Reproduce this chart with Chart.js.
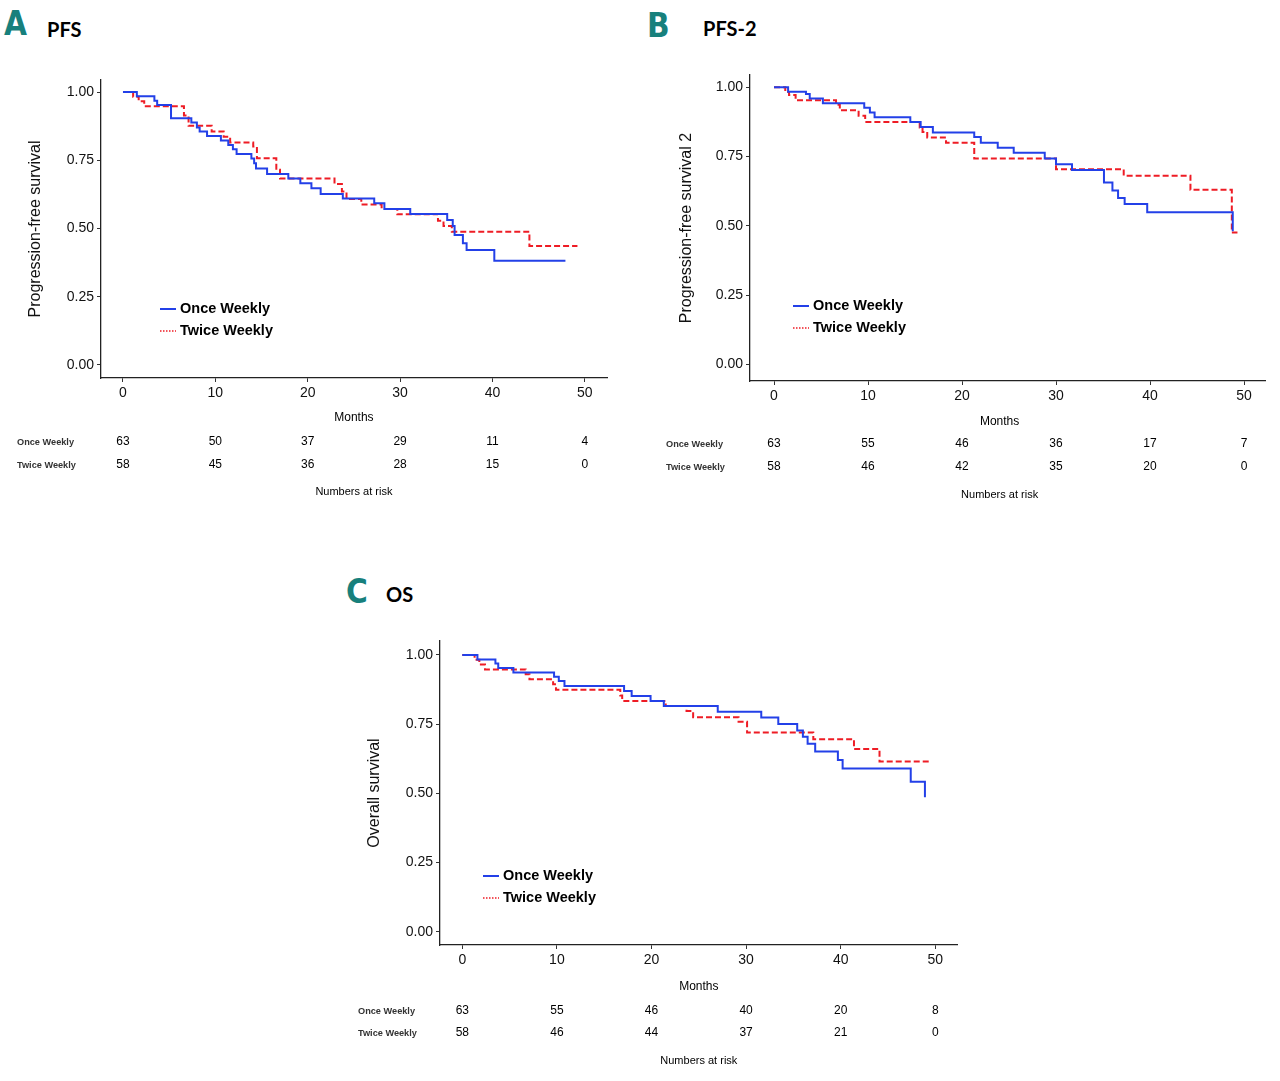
<!DOCTYPE html>
<html>
<head>
<meta charset="utf-8">
<script src="https://cdn.jsdelivr.net/npm/chart.js@4.4.1/dist/chart.umd.min.js"></script>
<style>
  html, body { margin: 0; padding: 0; background: #fff; }
  #page { position: relative; width: 1280px; height: 1081px; overflow: hidden; }
  canvas { position: absolute; }
  .letter { position: absolute; font-family: "Liberation Sans Narrow", "DejaVu Sans Condensed", sans-serif; font-weight: bold; color: #17807c; font-size: 33px; line-height: 1; }
  .head { position: absolute; font-family: Lato, "Open Sans", sans-serif; font-weight: bold; font-size: 20px; line-height: 1; color: #000; }
</style>
</head>
<body>
<div id="page">
  <div class="letter" style="left:4px;top:7px">A</div>
  <div class="head" style="left:47px;top:19px">PFS</div>
  <div class="letter" style="left:647px;top:9px">B</div>
  <div class="head" style="left:703px;top:18px">PFS-2</div>
  <div class="letter" style="left:346px;top:575px">C</div>
  <div class="head" style="left:386px;top:584px">OS</div>
  <canvas id="chartA"></canvas>
  <canvas id="chartB"></canvas>
  <canvas id="chartC"></canvas>
</div>
<script>
// axis ticks
const monthTicks = [0, 10, 20, 30, 40, 50];
const survTicks = [0, 0.25, 0.5, 0.75, 1];
const groups = ["Once Weekly", "Twice Weekly"];

// A - PFS
const pfsOnceMonths = [0, 1.5, 3.4, 3.7, 5.2, 7.4, 8.0, 8.3, 9.1, 10.6, 11.4, 11.9, 12.3, 13.9, 14.2, 14.4, 15.6, 17.9, 19.2, 20.4, 21.4, 23.8, 27.2, 28.3, 31.1, 35.1, 35.7, 35.9, 36.8, 37.2, 40.2, 47.9];
const pfsOnceSurv   = [1, 0.984, 0.968, 0.952, 0.904, 0.888, 0.870, 0.855, 0.839, 0.822, 0.806, 0.790, 0.773, 0.756, 0.739, 0.720, 0.700, 0.683, 0.666, 0.647, 0.626, 0.610, 0.592, 0.571, 0.553, 0.531, 0.509, 0.476, 0.446, 0.421, 0.382, 0.382];
const pfsTwiceMonths = [0, 1.1, 1.7, 2.3, 6.6, 7.1, 9.6, 10.9, 11.6, 14.1, 14.5, 16.6, 17.0, 22.9, 23.7, 24.2, 25.8, 28.0, 29.7, 34.1, 34.7, 35.6, 44.0, 49.2];
const pfsTwiceSurv   = [1, 0.983, 0.966, 0.948, 0.914, 0.876, 0.855, 0.836, 0.815, 0.800, 0.757, 0.715, 0.683, 0.663, 0.635, 0.608, 0.588, 0.571, 0.552, 0.528, 0.509, 0.488, 0.436, 0.436];
const pfsRiskOnce  = [63, 50, 37, 29, 11, 4];
const pfsRiskTwice = [58, 45, 36, 28, 15, 0];

// B - PFS-2
const pfs2OnceMonths = [0, 1.5, 3.4, 3.8, 5.2, 9.6, 10.2, 10.7, 14.5, 15.6, 16.9, 21.3, 22.0, 23.8, 25.5, 28.8, 30.0, 31.7, 35.1, 36.0, 36.6, 37.3, 39.7, 48.8, 48.8];
const pfs2OnceSurv   = [1, 0.984, 0.976, 0.960, 0.942, 0.926, 0.909, 0.892, 0.875, 0.857, 0.837, 0.821, 0.800, 0.782, 0.764, 0.743, 0.722, 0.701, 0.656, 0.627, 0.600, 0.579, 0.549, 0.549, 0.480];
const pfs2TwiceMonths = [0, 1.2, 1.6, 2.3, 6.6, 7.0, 9.0, 9.7, 15.5, 15.8, 16.3, 18.3, 21.3, 30.0, 37.2, 44.3, 48.7, 49.3];
const pfs2TwiceSurv   = [1, 0.983, 0.972, 0.953, 0.937, 0.917, 0.897, 0.875, 0.855, 0.839, 0.819, 0.800, 0.743, 0.704, 0.681, 0.630, 0.476, 0.476];
const pfs2RiskOnce  = [63, 55, 46, 36, 17, 7];
const pfs2RiskTwice = [58, 46, 42, 35, 20, 0];

// C - OS
const osOnceMonths = [0, 1.6, 3.5, 3.8, 5.4, 9.7, 10.2, 10.8, 17.1, 17.9, 19.9, 21.3, 27.0, 31.6, 33.4, 35.4, 36.0, 36.5, 37.3, 39.7, 40.2, 47.4, 48.9];
const osOnceSurv   = [1, 0.984, 0.969, 0.953, 0.937, 0.921, 0.906, 0.888, 0.870, 0.852, 0.834, 0.816, 0.795, 0.774, 0.751, 0.727, 0.705, 0.679, 0.651, 0.621, 0.590, 0.542, 0.486];
const osTwiceMonths = [0, 1.3, 1.8, 2.4, 6.7, 7.1, 9.6, 9.9, 16.7, 16.9, 21.5, 23.7, 24.4, 29.2, 30.1, 37.1, 41.4, 44.1, 49.6];
const osTwiceSurv   = [1, 0.983, 0.966, 0.948, 0.930, 0.912, 0.894, 0.874, 0.854, 0.834, 0.816, 0.798, 0.775, 0.759, 0.720, 0.696, 0.660, 0.615, 0.615];
const osRiskOnce  = [63, 55, 46, 40, 20, 8];
const osRiskTwice = [58, 46, 44, 37, 21, 0];

const BLUE = "#2340e8";
const RED = "#ee1c25";
const SANS = '"Liberation Sans", Arial, sans-serif';

const zip = (xs, ys) => xs.map((x, i) => ({ x: x, y: ys[i] }));

// numbers at risk, axis caption and the in-plot legend
const tablePlugin = (p) => ({
  id: "riskTable",
  afterDraw(chart) {
    const { ctx, chartArea, scales } = chart;
    const x = scales.x;
    const b = chartArea.bottom;
    ctx.save();
    ctx.fillStyle = "#000";
    ctx.textBaseline = "middle";
    ctx.textAlign = "center";
    ctx.font = "12px " + SANS;
    ctx.fillText("Months", x.getPixelForValue(p.titleAt), b + p.monthsDy);
    ctx.font = "11px " + SANS;
    ctx.fillText("Numbers at risk", x.getPixelForValue(p.titleAt), b + p.narDy);
    ctx.font = "12px " + SANS;
    [p.risk[0], p.risk[1]].forEach((row, r) => {
      const y = b + (r ? p.row2Dy : p.row1Dy);
      row.forEach((n, i) => ctx.fillText(String(n), x.getPixelForValue(monthTicks[i]), y));
    });
    ctx.textAlign = "left";
    ctx.fillStyle = "#333";
    ctx.font = "bold 9.2px " + SANS;
    groups.forEach((g, r) => ctx.fillText(g, p.labelX, b + (r ? p.row2Dy : p.row1Dy)));

    // legend
    const lx = chartArea.left + p.legendDx;
    groups.forEach((g, r) => {
      const ly = chartArea.top + p.legendDy + r * 22;
      ctx.beginPath();
      ctx.moveTo(lx, ly);
      ctx.lineTo(lx + 16, ly);
      if (r) { ctx.strokeStyle = RED; ctx.lineWidth = 1.5; ctx.setLineDash([1.5, 1.5]); }
      else { ctx.strokeStyle = BLUE; ctx.lineWidth = 2; ctx.setLineDash([]); }
      ctx.stroke();
      ctx.fillStyle = "#000";
      ctx.font = "bold 14.5px " + SANS;
      ctx.fillText(g, lx + 20, ly);
    });
    ctx.restore();
  }
});

function makePanel(p) {
  const canvas = document.getElementById(p.id);
  canvas.width = p.w;
  canvas.height = p.h;
  canvas.style.left = p.left + "px";
  canvas.style.top = p.top + "px";
  canvas.style.width = p.w + "px";
  canvas.style.height = p.h + "px";

  const axisGrid = { display: true, drawOnChartArea: false, drawTicks: true, tickLength: 4, color: "#333", lineWidth: 1 };
  const axisBorder = { display: true, color: "#222", width: 1.3 };

  return new Chart(canvas, {
    type: "line",
    data: {
      datasets: [
        { label: groups[0], data: zip(p.once[0], p.once[1]), borderColor: BLUE, borderWidth: 2, stepped: true, pointRadius: 0, fill: false },
        { label: groups[1], data: zip(p.twice[0], p.twice[1]), borderColor: RED, borderWidth: 2, borderDash: [6, 3], stepped: true, pointRadius: 0, fill: false }
      ]
    },
    options: {
      responsive: false,
      animation: false,
      layout: { padding: { top: p.padTop, right: p.padRight, left: 0, bottom: 0 } },
      plugins: { legend: { display: false }, tooltip: { enabled: false } },
      scales: {
        x: {
          type: "linear",
          min: p.xMin, max: p.xMax,
          grid: axisGrid, border: axisBorder,
          afterBuildTicks: s => { s.ticks = monthTicks.map(v => ({ value: v })); },
          afterFit: s => { s.height = p.xAxisH; },
          ticks: { color: "#111", font: { family: SANS, size: 14 }, padding: 3, maxRotation: 0, autoSkip: false, callback: v => String(v) }
        },
        y: {
          type: "linear",
          min: p.yMin, max: p.yMax,
          grid: axisGrid, border: axisBorder,
          afterBuildTicks: s => { s.ticks = survTicks.map(v => ({ value: v })); },
          afterFit: s => { s.width = p.yAxisW; },
          ticks: { color: "#111", font: { family: SANS, size: 14 }, padding: 3, autoSkip: false, callback: v => Number(v).toFixed(2) },
          title: { display: true, text: p.yTitle, color: "#111", font: { family: SANS, size: 16 }, padding: { top: p.yTitlePad, bottom: 0 } }
        }
      }
    },
    plugins: [tablePlugin(p)]
  });
}

makePanel({
  id: "chartA", left: 0, top: 0, w: 640, h: 510,
  yAxisW: 101, padTop: 80, padRight: 33, xAxisH: 132,
  xMin: -2.38, xMax: 52.4, yMin: -0.048, yMax: 1.044,
  yTitle: "Progression-free survival", yTitlePad: 26,
  once: [pfsOnceMonths, pfsOnceSurv], twice: [pfsTwiceMonths, pfsTwiceSurv],
  risk: [pfsRiskOnce, pfsRiskTwice],
  labelX: 17, titleAt: 25, monthsDy: 40, row1Dy: 64, row2Dy: 87, narDy: 114,
  legendDx: 59, legendDy: 229
});

makePanel({
  id: "chartB", left: 640, top: 0, w: 640, h: 510,
  yAxisW: 110, padTop: 75, padRight: 15, xAxisH: 129,
  xMin: -2.553, xMax: 52.23, yMin: -0.0603, yMax: 1.0444,
  yTitle: "Progression-free survival 2", yTitlePad: 37,
  once: [pfs2OnceMonths, pfs2OnceSurv], twice: [pfs2TwiceMonths, pfs2TwiceSurv],
  risk: [pfs2RiskOnce, pfs2RiskTwice],
  labelX: 26, titleAt: 24, monthsDy: 41, row1Dy: 63, row2Dy: 86, narDy: 114,
  legendDx: 43, legendDy: 231
});

makePanel({
  id: "chartC", left: 320, top: 560, w: 680, h: 521,
  yAxisW: 120, padTop: 81, padRight: 43, xAxisH: 136,
  xMin: -2.357, xMax: 52.29, yMin: -0.0476, yMax: 1.0505,
  yTitle: "Overall survival", yTitlePad: 45,
  once: [osOnceMonths, osOnceSurv], twice: [osTwiceMonths, osTwiceSurv],
  risk: [osRiskOnce, osRiskTwice],
  labelX: 38, titleAt: 25, monthsDy: 42, row1Dy: 66, row2Dy: 88, narDy: 116,
  legendDx: 43, legendDy: 235
});
</script>
</body>
</html>
